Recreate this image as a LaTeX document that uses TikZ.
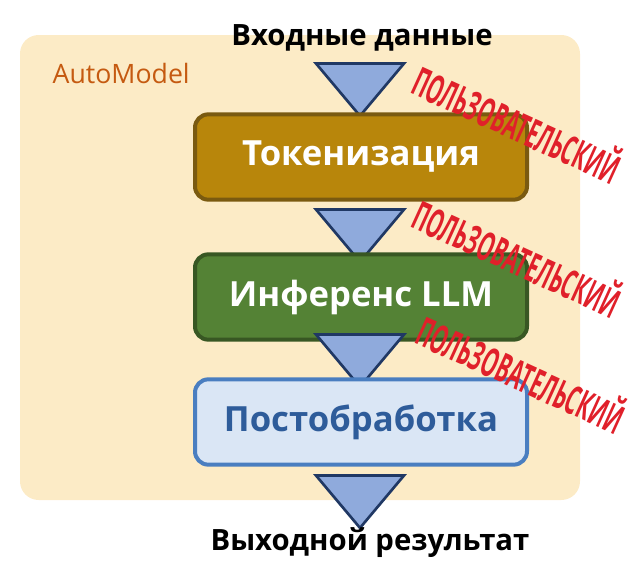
\documentclass[tikz,border=0pt]{standalone}
\usepackage{fontspec}
\setmainfont{Open Sans}
\usetikzlibrary{positioning, shapes.geometric}
\definecolor{beige}{HTML}{FCEBC6}
\definecolor{gold}{HTML}{B8860B}
\definecolor{goldline}{HTML}{7A5A10}
\definecolor{llmgreen}{HTML}{548235}
\definecolor{greenline}{HTML}{385723}
\definecolor{postfill}{HTML}{DAE6F5}
\definecolor{postline}{HTML}{4A7EC0}
\definecolor{posttext}{HTML}{2E5C9A}
\definecolor{arrowfill}{HTML}{8FAADC}
\definecolor{arrowline}{HTML}{203864}
\definecolor{stampred}{HTML}{E0202A}
\definecolor{autotext}{HTML}{C55A11}
\newcommand{\stamptext}{\scalebox{0.5}[1]{ПОЛЬЗОВАТЕЛЬСКИЙ}}
\tikzset{
  stage/.style={draw, line width=3pt, rounded corners=10pt, minimum width=249pt, minimum height=64pt, font=\bfseries\fontsize{26}{30}\selectfont},
  flow/.style={isosceles triangle, shape border rotate=-90, isosceles triangle apex angle=80, draw=arrowline, fill=arrowfill, line width=2pt, minimum width=66pt, inner sep=0pt},
  stamp/.style={text=stampred, rotate=-24.5, inner sep=0pt, font=\bfseries\fontsize{30}{30}\selectfont},
  caption/.style={font=\bfseries\fontsize{22}{24}\selectfont}
}
\begin{document}
\begin{tikzpicture}[x=0.75pt,y=-0.75pt]
  \useasboundingbox (0,0) rectangle (637,571);
  \fill[beige, rounded corners=14pt] (20,35) rectangle (580,500);
  \node[font=\fontsize{20}{22}\selectfont, text=autotext, anchor=west] (auto) at (48,74) {AutoModel};
  \node[caption] (in) at (362,38) {Входные данные};
  \node[flow] (t1) at (360,84) {};
  % stages
  \node[stage, draw=goldline, fill=gold, text=white] (tok) at (361,157) {Токенизация};
  \node[flow] (t2) at (360,230) {};
  \node[stage, draw=greenline, fill=llmgreen, text=white] (llm) at (361,297) {Инференс LLM};
  \node[flow] (t3) at (360,355) {};
  \node[stage, draw=postline, fill=postfill, text=posttext] (post) at (361,422) {Постобработка};
  \node[flow] (t4) at (360,496) {};
  \node[caption] (out) at (370,543) {Выходной результат};
  % stamps
  \node[stamp] (s1) at (518,122) {\stamptext};
  \node[stamp] (s2) at (518,256) {\stamptext};
  \node[stamp] (s3) at (522,372) {\stamptext};
\end{tikzpicture}
\end{document}
